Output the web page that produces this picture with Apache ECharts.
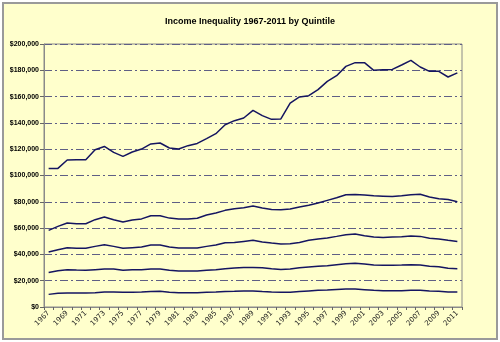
<!DOCTYPE html>
<html><head><meta charset="utf-8">
<script src="https://cdn.jsdelivr.net/npm/echarts@6/dist/echarts.min.js"></script>
<style>html,body{margin:0;padding:0;background:#fff}#c{width:500px;height:342px}</style>
</head><body><div id="c"></div>
<script>
var years = [];
for (var y = 1967; y <= 2011; y++) years.push(String(y));
var yTicks = [0, 20000, 40000, 60000, 80000, 100000, 120000, 140000, 160000, 180000, 200000];
var lowest = [9600,10400,10600,10600,10600,10900,11400,11400,11200,11200,11400,11700,11900,11200,10900,10900,10900,11200,11400,11700,11900,12200,12200,11700,11400,11200,11200,11700,12200,12700,12900,13400,13700,13700,13200,12700,12400,12400,12400,12700,12700,12200,11900,11400,11400];
var second = [26300,27600,28400,28100,27900,28400,28900,28900,27900,28400,28400,28900,28900,27900,27400,27400,27400,27900,28400,29100,29600,30100,30100,29900,29100,28600,28900,29900,30400,30900,31400,32200,32900,33200,32700,31900,31700,31700,31900,32200,31900,30900,30600,29400,29100];
var middle = [41800,43600,45100,44600,44600,46100,47400,46100,44600,45100,45600,47100,47100,45600,44900,44900,44900,46100,47100,48900,49100,49900,50700,49400,48600,47900,48100,49100,50700,51700,52500,53700,55000,55500,54200,53200,52900,53200,53500,54000,53700,52200,51700,50700,49900];
var fourth = [58300,61300,63900,63300,63300,66400,68400,66400,64600,66100,67000,69400,69400,67600,67000,67000,67500,70000,71500,73500,74800,75500,76800,75300,74200,74000,74500,76000,77300,79100,81100,83100,85400,85600,85200,84600,84300,84000,84600,85400,85700,83600,82400,81800,80100];
var top5 = [105400,105400,111800,112000,112000,119600,122100,117600,114500,117900,120100,124000,124700,120900,120100,122700,124400,128000,131800,138600,141700,143700,149500,145500,142700,143000,155100,159700,160700,165300,171600,175900,183000,185800,185800,180000,180500,180700,184000,187500,182500,179200,179200,174900,178000];
var seriesData = [lowest, second, middle, fourth, top5];
var seriesNames = ['Lowest fifth', 'Second fifth', 'Middle fifth', 'Fourth fifth', 'Highest fifth'];

function fmt(v) { return '$' + String(v).replace(/\B(?=(\d{3})+(?!\d))/g, ','); }

var chart = echarts.init(document.getElementById('c'), null, {renderer: 'canvas'});
chart.setOption({
  backgroundColor: '#ffffff',
  animation: false,
  graphic: [{
    type: 'rect', z: -10, silent: true,
    shape: {x: 3, y: 3, width: 494, height: 336},
    style: {fill: '#FFFFCC', stroke: '#9a9a9a', lineWidth: 2}
  }],
  title: {
    text: 'Income Inequality 1967-2011 by Quintile',
    left: 'center', top: 12,
    textStyle: {fontFamily: 'Liberation Sans, Arial', fontSize: 9, fontWeight: 'bold', color: '#000'}
  },
  grid: {left: 44, right: 38, top: 44, bottom: 35, show: true, borderColor: '#8a8a8a', borderWidth: 1, backgroundColor: '#FFFFCC'},
  xAxis: {
    type: 'category', data: years, boundaryGap: true,
    axisLine: {lineStyle: {color: '#8a8a8a'}},
    axisTick: {show: true, interval: 0, length: 3, lineStyle: {color: '#666'}},
    axisLabel: {interval: 1, rotate: 45, fontSize: 7, fontWeight: 'normal', fontFamily: 'DejaVu Sans, Verdana', color: '#222', margin: 5}
  },
  yAxis: {
    type: 'value', min: yTicks[0], max: yTicks[yTicks.length - 1], interval: 20000,
    axisLine: {show: true, lineStyle: {color: '#8a8a8a'}},
    axisTick: {show: true, length: 4, lineStyle: {color: '#666'}},
    axisLabel: {formatter: fmt, fontSize: 7, fontWeight: 'bold', fontFamily: 'Liberation Sans, Arial', color: '#000', margin: 5},
    splitLine: {show: true, lineStyle: {color: '#5f5f85', width: 1, type: [8, 3, 2, 3]}}
  },
  series: seriesData.map(function (d, i) {
    return {
      name: seriesNames[i], type: 'line', data: d, showSymbol: false, symbol: 'none',
      lineStyle: {color: '#151560', width: 1.5}
    };
  })
});
</script></body></html>
